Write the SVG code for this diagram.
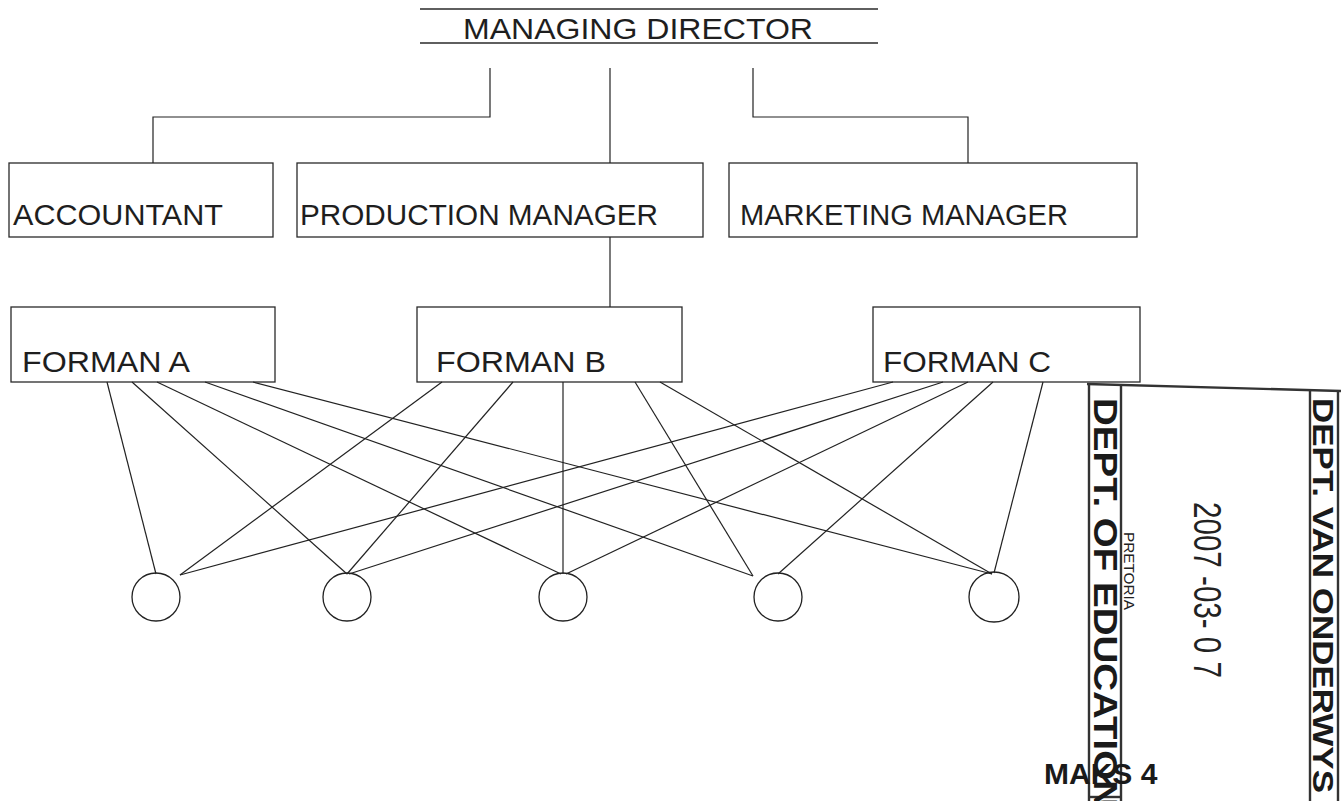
<svg xmlns="http://www.w3.org/2000/svg" width="1341" height="801" viewBox="0 0 1341 801">
  <style>
    .box { fill: none; stroke: #2a2a2a; stroke-width: 1.3; }
    .lbl { font-family: "Liberation Sans", Arial, sans-serif; font-size: 30px; fill: #1e1e1e; }
    .wire { fill: none; stroke: #222; stroke-width: 1.2; }
    .unit { fill: none; stroke: #222; stroke-width: 1.3; }
    .stamp { fill: none; stroke: #333; stroke-width: 2.4; }
    .stampTxt { font-family: "Liberation Sans", Arial, sans-serif; font-weight: bold; fill: #1a1a1a; }
  </style>
  <rect width="1341" height="801" fill="#fff"/>

  <!-- top of the chart -->
  <g id="managing-director">
    <line class="box" x1="420" y1="9" x2="878" y2="9"/>
    <line class="box" x1="420" y1="43" x2="878" y2="43"/>
    <text class="lbl" x="463" y="39" textLength="350" lengthAdjust="spacingAndGlyphs">MANAGING DIRECTOR</text>
  </g>

  <!-- second level -->
  <g id="accountant">
    <rect class="box" x="9" y="163" width="264" height="74"/>
    <text class="lbl" x="13" y="225" textLength="210" lengthAdjust="spacingAndGlyphs">ACCOUNTANT</text>
  </g>
  <g id="production-manager">
    <rect class="box" x="297" y="163" width="406" height="74"/>
    <text class="lbl" x="300" y="225" textLength="358" lengthAdjust="spacingAndGlyphs">PRODUCTION MANAGER</text>
  </g>
  <g id="marketing-manager">
    <rect class="box" x="729" y="163" width="408" height="74"/>
    <text class="lbl" x="740" y="225" textLength="328" lengthAdjust="spacingAndGlyphs">MARKETING MANAGER</text>
  </g>

  <!-- foremen -->
  <g id="forman-a">
    <rect class="box" x="11" y="307" width="264" height="75"/>
    <text class="lbl" x="22" y="372" textLength="168" lengthAdjust="spacingAndGlyphs">FORMAN A</text>
  </g>
  <g id="forman-b">
    <rect class="box" x="417" y="307" width="265" height="75"/>
    <text class="lbl" x="436" y="372" textLength="170" lengthAdjust="spacingAndGlyphs">FORMAN B</text>
  </g>
  <g id="forman-c">
    <rect class="box" x="873" y="307" width="267" height="75"/>
    <text class="lbl" x="883" y="372" textLength="168" lengthAdjust="spacingAndGlyphs">FORMAN C</text>
  </g>

  <!-- workers -->
  <g id="worker-1"><circle class="unit" cx="156" cy="597" r="24"/></g>
  <g id="worker-2"><circle class="unit" cx="347" cy="597" r="24"/></g>
  <g id="worker-3"><circle class="unit" cx="563" cy="597" r="24"/></g>
  <g id="worker-4"><circle class="unit" cx="778" cy="597" r="24"/></g>
  <g id="worker-5"><circle class="unit" cx="994" cy="597" r="25"/></g>

  <g id="connectors">
    <!-- reporting lines -->
    <path class="wire" d="M490 68 V117 H153 V163"/>
    <path class="wire" d="M610 68 V163"/>
    <path class="wire" d="M753 68 V117 H968 V163"/>
    <path class="wire" d="M610 237 V307"/>
    <!-- foreman A -->
    <line class="wire" x1="107" y1="382" x2="156" y2="574"/>
    <line class="wire" x1="132" y1="382" x2="347" y2="574"/>
    <line class="wire" x1="157" y1="382" x2="561" y2="574"/>
    <line class="wire" x1="205" y1="382" x2="753" y2="576"/>
    <line class="wire" x1="253" y1="382" x2="992" y2="574"/>
    <!-- foreman B -->
    <line class="wire" x1="442" y1="382" x2="180" y2="575"/>
    <line class="wire" x1="513" y1="382" x2="347" y2="574"/>
    <line class="wire" x1="563" y1="382" x2="563" y2="574"/>
    <line class="wire" x1="635" y1="382" x2="753" y2="576"/>
    <line class="wire" x1="660" y1="382" x2="992" y2="574"/>
    <!-- foreman C -->
    <line class="wire" x1="893" y1="382" x2="180" y2="575"/>
    <line class="wire" x1="943" y1="382" x2="349" y2="574"/>
    <line class="wire" x1="968" y1="382" x2="566" y2="574"/>
    <line class="wire" x1="993" y1="382" x2="778" y2="574"/>
    <line class="wire" x1="1043" y1="382" x2="994" y2="573"/>
  </g>

  <!-- receipt stamp -->
  <g id="stamp">
    <line class="stamp" x1="1087" y1="384" x2="1341" y2="391"/>
    <line class="stamp" x1="1089" y1="384" x2="1089" y2="801"/>
    <line class="stamp" x1="1121" y1="385" x2="1121" y2="801"/>
    <line class="stamp" x1="1310" y1="390" x2="1310" y2="801"/>
    <line class="stamp" x1="1338" y1="391" x2="1338" y2="801"/>
    <line class="stamp" x1="1089" y1="797" x2="1121" y2="797"/>
    <text class="stampTxt" font-size="34" transform="translate(1094 398) rotate(90)" textLength="410" lengthAdjust="spacingAndGlyphs">DEPT. OF EDUCATION</text>
    <text font-family="Liberation Sans, Arial, sans-serif" font-size="14" fill="#222" transform="translate(1124 532) rotate(90)" textLength="78" lengthAdjust="spacingAndGlyphs">PRETORIA</text>
    <text font-family="Liberation Sans, Arial, sans-serif" font-size="38" fill="#222" transform="translate(1194 502) rotate(90)" textLength="176" lengthAdjust="spacingAndGlyphs">2007 -03- 0 7</text>
    <text class="stampTxt" font-size="30" transform="translate(1313 398) rotate(90)" textLength="395" lengthAdjust="spacingAndGlyphs">DEPT. VAN ONDERWYS</text>
    <text class="stampTxt" font-size="30" x="1044" y="784">MAKS 4</text>
  </g>
</svg>
